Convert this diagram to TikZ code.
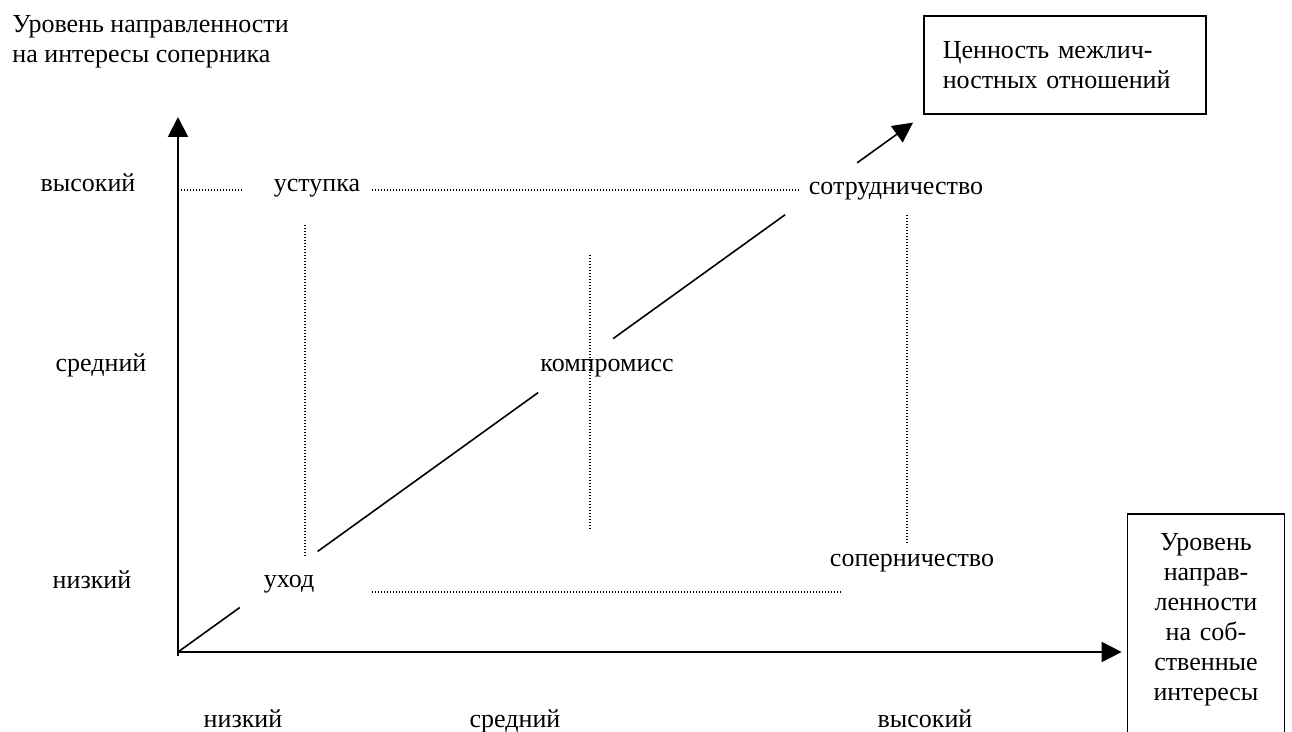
\documentclass[tikz,border=0pt]{standalone}
\usepackage{fontspec}
\setmainfont{Liberation Serif}
\usetikzlibrary{arrows.meta,calc}

\tikzset{
  axis/.style={line width=1pt,-{Triangle[length=10pt,width=10pt]}},
  diag/.style={line width=0.8pt},
  guide/.style={line width=0.7pt,dash pattern=on 0.5pt off 1pt},
  lbl/.style={anchor=base,inner sep=0pt},
}

\begin{document}
\begin{tikzpicture}[x=0.5pt,y=-0.5pt,every node/.style={font=\fontsize{13}{15}\selectfont}]
\useasboundingbox (0,0) rectangle (1292,732);

% axes and boxes
\coordinate (o) at (178,652);
\coordinate (ytip) at (178,117);
\node[anchor=north west,inner sep=0pt,align=left] (ytitle) at (12,15)
  {Уровень направленности\\на интересы соперника};
\node[draw,line width=0.8pt,anchor=north west,text width=122pt,inner xsep=9.5pt,
  minimum height=49pt,align=left] (val) at (923,15)
  {Ценность межлич-\\ностных отношений};
\node[anchor=north,text width=60pt,inner xsep=9pt,inner ysep=9.5pt,
  align=center] (xbox) at (1206,514)
  {Уровень\\направ-\\ленности\\на соб-\\ственные\\интересы};
\draw[line width=0.8pt] (xbox.north west |- 0,740) -- (xbox.north west)
  -- (xbox.north east) -- (xbox.north east |- 0,740);
\coordinate (dtip) at ([shift={(-10,8)}]val.south west);

\draw[axis] (178,656) -- (ytip);
\draw[axis] (o) -- ([xshift=-3pt]xbox.west |- o);

% diagonal
\foreach \a/\b in {0/0.084,0.19/0.49,0.592/0.826}
  \draw[diag] ($(o)!\a!(dtip)$) -- ($(o)!\b!(dtip)$);
\draw[diag,-{Triangle[length=10pt,width=10pt]}] ($(o)!0.924!(dtip)$) -- (dtip);

% levels
\node[lbl] (hi) at (88,192) {высокий};
\node[lbl] (mid) at (101,372) {средний};
\node[lbl] (lo) at (92,589) {низкий};
\node[lbl] (xlo) at (243,727) {низкий};
\node[lbl] (xmid) at (515,727) {средний};
\node[lbl] (xhi) at (925,727) {высокий};

% styles of conflict
\node[lbl] (ust) at (317,192) {уступка};
\node[lbl] (sotr) at (896,195) {сотрудничество};
\node[lbl] (komp) at (607,372) {компромисс};
\node[lbl] (ukhod) at (289,588) {уход};
\node[lbl] (sopern) at (912,567) {соперничество};

% guides
\draw[guide] (178,190) -- (243,190);
\draw[guide] (372,190) -- (800,190);
\draw[guide] (372,592) -- (842,592);
\draw[guide] (305,225) -- (305,558);
\draw[guide] (590,255) -- (590,530);
\draw[guide] (907,215) -- (907,545);
\end{tikzpicture}
\end{document}
